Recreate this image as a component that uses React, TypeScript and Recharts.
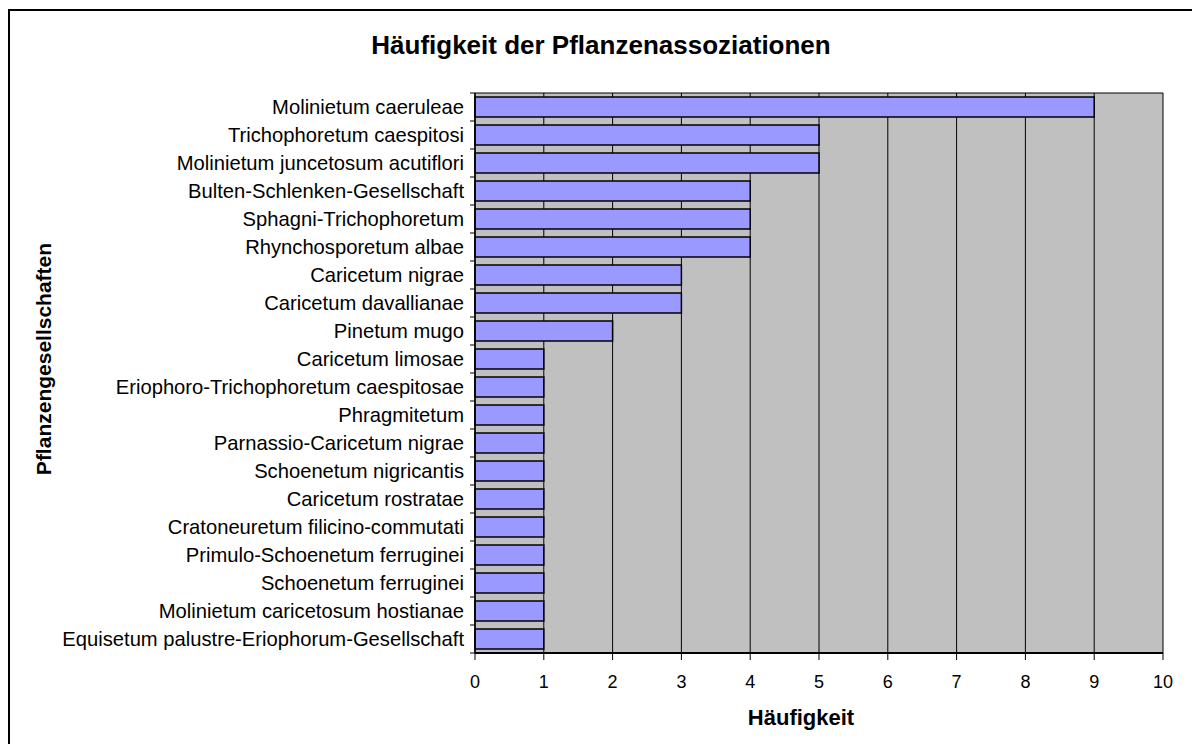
import { Bar, BarChart, CartesianGrid, XAxis, YAxis } from "recharts";

const categories = [
  "Molinietum caeruleae",
  "Trichophoretum caespitosi",
  "Molinietum juncetosum acutiflori",
  "Bulten-Schlenken-Gesellschaft",
  "Sphagni-Trichophoretum",
  "Rhynchosporetum albae",
  "Caricetum nigrae",
  "Caricetum davallianae",
  "Pinetum mugo",
  "Caricetum limosae",
  "Eriophoro-Trichophoretum caespitosae",
  "Phragmitetum",
  "Parnassio-Caricetum nigrae",
  "Schoenetum nigricantis",
  "Caricetum rostratae",
  "Cratoneuretum filicino-commutati",
  "Primulo-Schoenetum ferruginei",
  "Schoenetum ferruginei",
  "Molinietum caricetosum hostianae",
  "Equisetum palustre-Eriophorum-Gesellschaft",
];

const counts = [9, 5, 5, 4, 4, 4, 3, 3, 2, 1, 1, 1, 1, 1, 1, 1, 1, 1, 1, 1];

const xTicks = [0, 1, 2, 3, 4, 5, 6, 7, 8, 9, 10];

const title = "Häufigkeit der Pflanzenassoziationen";
const xTitle = "Häufigkeit";
const yTitle = "Pflanzengesellschaften";

const data = categories.map((name, i) => ({ name, value: counts[i] }));

const W = 1192;
const H = 736;
const margin = { top: 85, right: 37, left: 0, bottom: 0 };
const yAxisWidth = 467;
const xAxisHeight = 91;
const plotLeft = margin.left + yAxisWidth;
const plotTop = margin.top;
const plotHeight = H - margin.top - margin.bottom - xAxisHeight;
const band = plotHeight / categories.length;

const font = "'Liberation Sans', Arial, sans-serif";

function CategoryTick(props: any) {
  const { x, y, payload, index } = props;
  const isLast = index === categories.length - 1;
  return (
    <g>
      <text
        x={x}
        y={y}
        dy="0.355em"
        textAnchor="end"
        fontSize={20.2}
        fontFamily={font}
        fill="#000"
      >
        {payload.value}
      </text>
      <line x1={plotLeft - 5} x2={plotLeft} y1={y - band / 2} y2={y - band / 2} stroke="#000" />
      {isLast && (
        <line x1={plotLeft - 5} x2={plotLeft} y1={y + band / 2} y2={y + band / 2} stroke="#000" />
      )}
    </g>
  );
}

export default function App() {
  return (
    <div style={{ position: "relative", width: W, height: H, fontFamily: font, overflow: "hidden" }}>
      <div
        style={{
          position: "absolute",
          left: 0,
          top: 1,
          width: W + 10,
          height: H + 10,
          borderTop: "2px solid #000",
          borderLeft: "2px solid #000",
          boxSizing: "border-box",
        }}
      />
      <div
        style={{
          position: "absolute",
          left: 0,
          width: 1186,
          top: 24,
          textAlign: "center",
          fontSize: 26,
          lineHeight: "26px",
          fontWeight: "bold",
        }}
      >
        {title}
      </div>
      <div
        style={{
          position: "absolute",
          left: 793,
          top: 699,
          transform: "translateX(-50%)",
          fontSize: 22,
          lineHeight: "22px",
          fontWeight: "bold",
          whiteSpace: "nowrap",
        }}
      >
        {xTitle}
      </div>
      <div
        style={{
          position: "absolute",
          left: 35,
          top: 351,
          transform: "translate(-50%, -50%) rotate(-90deg)",
          fontSize: 21,
          lineHeight: "21px",
          fontWeight: "bold",
          whiteSpace: "nowrap",
        }}
      >
        {yTitle}
      </div>
      <BarChart
        width={W}
        height={H}
        data={data}
        layout="vertical"
        margin={margin}
        barSize={20}
        style={{ position: "absolute", left: 0, top: 0 }}
      >
        <CartesianGrid
          fill="#C0C0C0"
          stroke="#000"
          strokeOpacity={1}
          horizontalPoints={[plotTop]}
        />
        <XAxis
          type="number"
          domain={[0, 10]}
          ticks={xTicks}
          interval={0}
          height={xAxisHeight}
          axisLine={{ stroke: "#000", strokeWidth: 2 }}
          tickLine={{ stroke: "#000" }}
          tickSize={7}
          tickMargin={15}
          tick={{ fontSize: 18, fill: "#000", fontFamily: font }}
        />
        <YAxis
          type="category"
          dataKey="name"
          width={yAxisWidth}
          interval={0}
          axisLine={{ stroke: "#000", strokeWidth: 1.5 }}
          tickLine={false}
          tickSize={5}
          tickMargin={6}
          tick={<CategoryTick />}
        />
        <Bar
          dataKey="value"
          fill="#9999FF"
          stroke="#000"
          strokeWidth={1.5}
          isAnimationActive={false}
        />
      </BarChart>
    </div>
  );
}
